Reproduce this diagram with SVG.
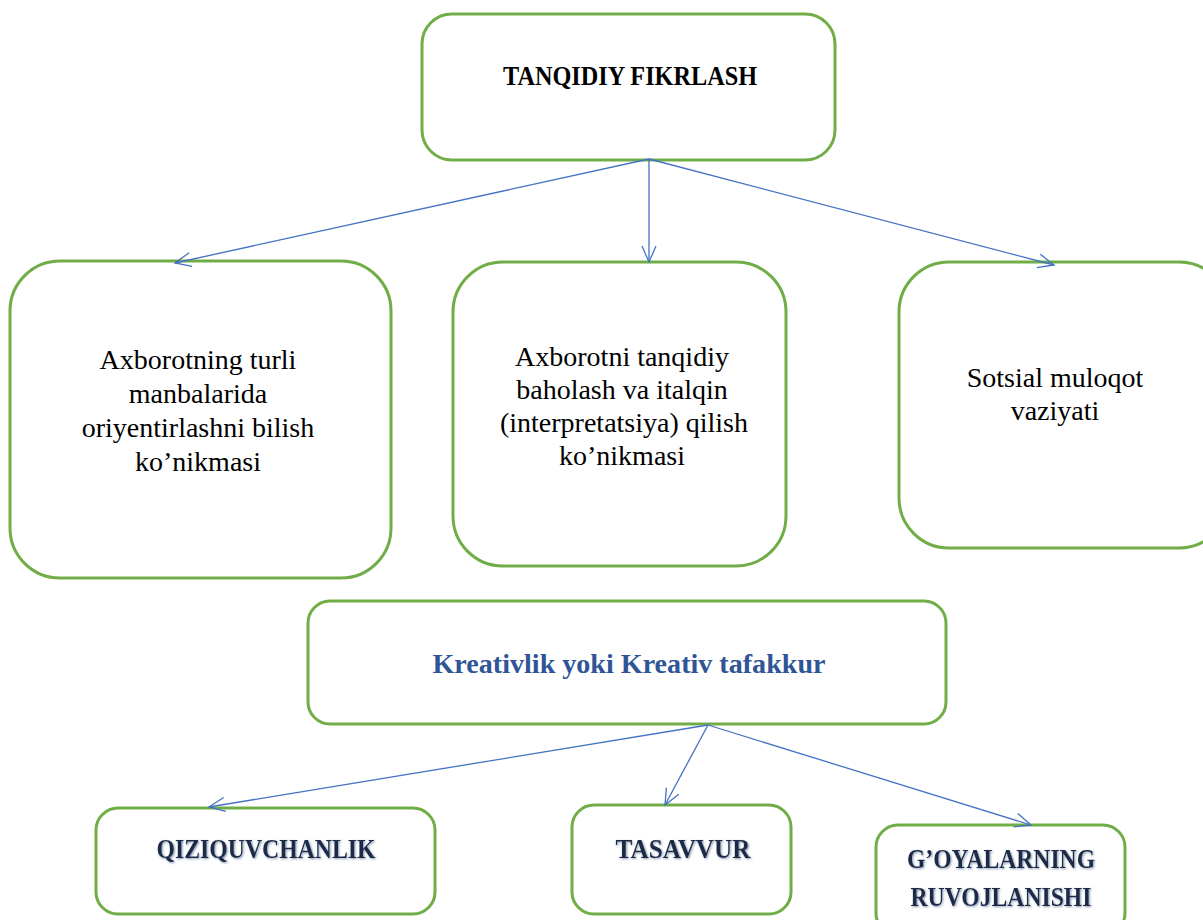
<svg xmlns="http://www.w3.org/2000/svg" width="1203" height="920" viewBox="0 0 1203 920">
<style>
.box{fill:#fff;stroke:#70AD47;stroke-width:3}
.t{font-family:"Liberation Serif","DejaVu Serif",serif;text-anchor:middle}
.r{font-size:28px;fill:#000}
.hb{font-size:28px;font-weight:bold;fill:#000}
.kb{font-size:28px;font-weight:bold;fill:#2F5597}
.sb{font-size:28px;font-weight:bold;fill:#1B2A47;filter:url(#sh)}
.c{fill:none;stroke:#4472C4;stroke-width:1.3}
</style>
<defs>
<marker id="ah" viewBox="0 0 20 20" refX="18" refY="10" markerWidth="20" markerHeight="20" markerUnits="userSpaceOnUse" orient="auto">
<path d="M2,3 L18,10 L2,17" fill="none" stroke="#4472C4" stroke-width="1.3"/>
</marker>
<filter id="sh" x="-10%" y="-30%" width="120%" height="160%">
<feGaussianBlur in="SourceAlpha" stdDeviation="1.2"/>
<feOffset dx="1" dy="1" result="b"/>
<feFlood flood-color="#8496B0"/>
<feComposite in2="b" operator="in"/>
<feMerge><feMergeNode/><feMergeNode in="SourceGraphic"/></feMerge>
</filter>
</defs>
<rect width="1203" height="920" fill="#fff"/>
<g id="n-top">
<rect class="box" x="422" y="14" width="413" height="146" rx="30"/>
<text class="t hb" x="630" y="85" textLength="254" lengthAdjust="spacingAndGlyphs">TANQIDIY FIKRLASH</text>
</g>
<g id="n-b1">
<rect class="box" x="10" y="261" width="381" height="317" rx="50"/>
<text class="t r" x="198" y="369">Axborotning turli</text>
<text class="t r" x="198" y="403">manbalarida</text>
<text class="t r" x="198" y="437">oriyentirlashni bilish</text>
<text class="t r" x="198" y="471">ko’nikmasi</text>
</g>
<g id="n-b2">
<rect class="box" x="453" y="262" width="333" height="304" rx="50"/>
<text class="t r" x="622" y="366">Axborotni tanqidiy</text>
<text class="t r" x="622" y="399">baholash va italqin</text>
<text class="t r" x="624" y="432">(interpretatsiya) qilish</text>
<text class="t r" x="622" y="465">ko’nikmasi</text>
</g>
<g id="n-b3">
<rect class="box" x="899" y="262" width="330" height="286" rx="50"/>
<text class="t r" x="1055" y="387">Sotsial muloqot</text>
<text class="t r" x="1055" y="420">vaziyati</text>
</g>
<g id="n-kr">
<rect class="box" x="308" y="601" width="638" height="123" rx="22"/>
<text class="t kb" x="629" y="673" textLength="393" lengthAdjust="spacingAndGlyphs">Kreativlik yoki Kreativ tafakkur</text>
</g>
<g id="n-q">
<rect class="box" x="96" y="808" width="339" height="106" rx="22"/>
<text class="t sb" x="266" y="858" textLength="219" lengthAdjust="spacingAndGlyphs">QIZIQUVCHANLIK</text>
</g>
<g id="n-t">
<rect class="box" x="572" y="805" width="219" height="109" rx="22"/>
<text class="t sb" x="683" y="858" textLength="135" lengthAdjust="spacingAndGlyphs">TASAVVUR</text>
</g>
<g id="n-g">
<rect class="box" x="876" y="825" width="249" height="110" rx="22"/>
<text class="t sb" x="1001" y="868" textLength="188" lengthAdjust="spacingAndGlyphs">G’OYALARNING</text>
<text class="t sb" x="1001" y="906" textLength="181" lengthAdjust="spacingAndGlyphs">RUVOJLANISHI</text>
</g>
<g id="connectors">
<line class="c" x1="649" y1="159" x2="175" y2="263" marker-end="url(#ah)"/>
<line class="c" x1="649" y1="159" x2="649" y2="262" marker-end="url(#ah)"/>
<line class="c" x1="649" y1="159" x2="1054" y2="265" marker-end="url(#ah)"/>
<line class="c" x1="708" y1="725" x2="209" y2="807" marker-end="url(#ah)"/>
<line class="c" x1="708" y1="725" x2="665" y2="805" marker-end="url(#ah)"/>
<line class="c" x1="708" y1="725" x2="1031" y2="825" marker-end="url(#ah)"/>
</g>
</svg>
